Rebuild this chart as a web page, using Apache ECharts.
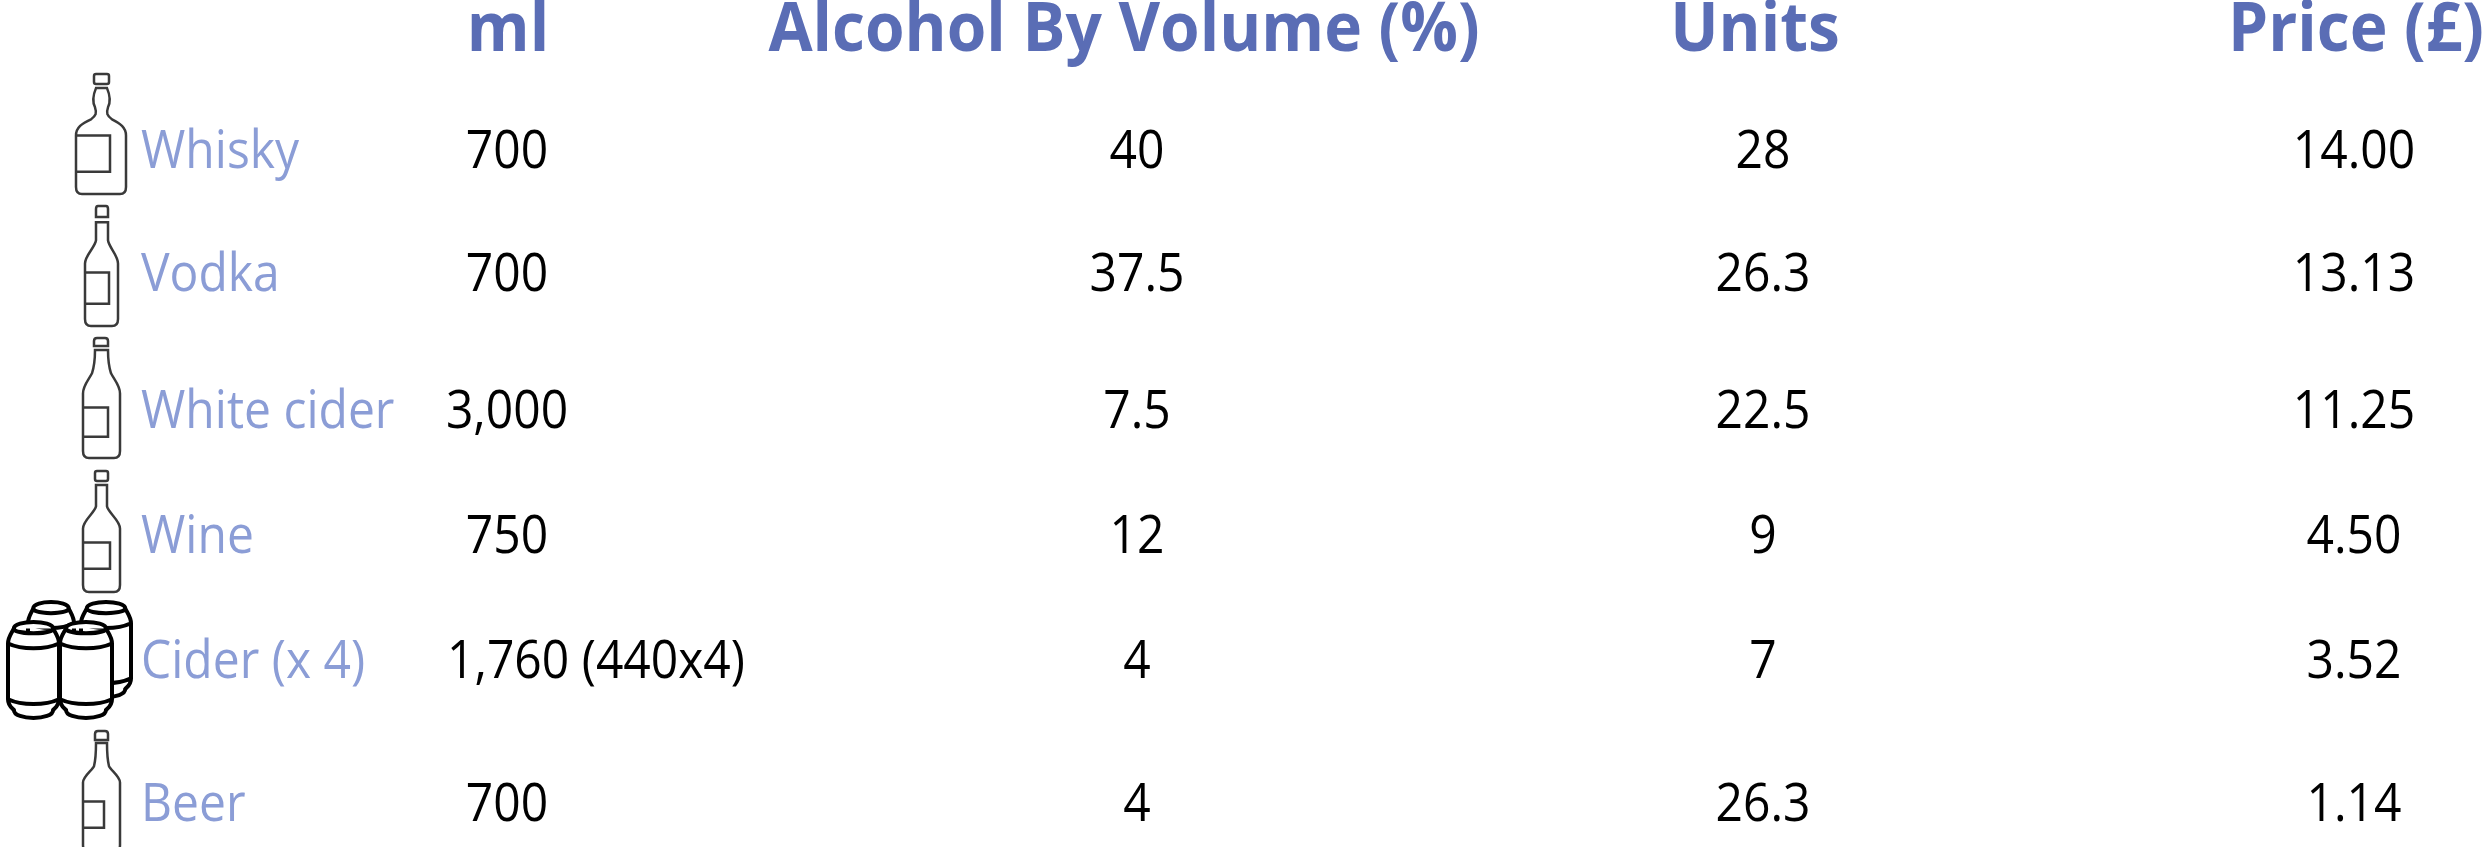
<!DOCTYPE html>
<html>
<head>
<meta charset="utf-8">
<title>Alcohol prices</title>
<script src="https://cdn.jsdelivr.net/npm/echarts@6/dist/echarts.min.js"></script>
<style>
  html, body { margin: 0; padding: 0; background: #fff; }
  #chart { width: 2488px; height: 847px; }
</style>
</head>
<body>
<div id="chart"></div>
<script>
// table data
var headers = ['ml', 'Alcohol By Volume (%)', 'Units', 'Price (£)'];
var drinks = ['Whisky', 'Vodka', 'White cider', 'Wine', 'Cider (x 4)', 'Beer'];
var volume = ['700', '700', '3,000', '750', '1,760 (440x4)', '700'];
var abv = ['40', '37.5', '7.5', '12', '4', '4'];
var units = ['28', '26.3', '22.5', '9', '7', '26.3'];
var price = ['14.00', '13.13', '11.25', '4.50', '3.52', '1.14'];

// layout, in page pixels
var rowY = [153, 276, 413, 538, 663, 806];
var columnX = [507, 1137, 1763, 2354];
var headerX = [508, 1124, 1755, 2356];
var headerY = 32;
var nameX = 141;

var bottle = {
  whisky: 'M20 1H31Q33 1 33 3V9Q33 11 31 11H20Q18 11 18 9V3Q18 1 20 1Z M20 15H31C34 22 35 28 32 34C30 40 31 42 36 46C44 50 50 54 50 62V113Q50 120 44 120H6Q0 120 0 113V62C0 54 6 50 15 46C20 42 21 40 19 34C16 28 17 22 20 15Z M0 62H34V98H0',
  vodka: 'M13 1H21Q23 1 23 4V12H11V4Q11 1 13 1Z M11 17H23V35C24 42 33 50 33 58V113Q33 120 27 120H6Q0 120 0 113V58C0 50 10 42 11 35Z M0 67H24V98H0',
  whitecider: 'M14 1H22Q25 1 25 4V9H11V4Q11 1 14 1Z M12 13H25C25 22 26 30 28 36C31 42 37 48 37 56V113Q37 120 31 120H6Q0 120 0 113V56C0 48 6 42 9 36C11 30 12 22 12 13Z M0 70H25V99H0',
  wine: 'M14 1H23Q25 1 25 3V9Q25 11 23 11H14Q12 11 12 9V3Q12 1 14 1Z M13 15H24V36C25 42 37 50 37 58V114Q37 121 31 121H6Q0 121 0 114V58C0 50 12 42 13 36Z M0 72H27V98H0',
  beer: 'M15 1H22Q25 1 25 4V10H12V4Q12 1 15 1Z M13 13H24C24 24 25 32 26 36C28 40 37 46 37 52V114Q37 121 31 121H6Q0 121 0 114V52C0 46 9 40 11 36C12 32 13 24 13 13Z M0 71H21V97H0',
  can: 'M6 10C6 2 46 2 46 10C46 16 6 16 6 10Z M6 10C4 14 0 18 0 24V76C0 82 4 84 6 86C6 96 46 96 46 86C48 84 52 82 52 76V24C52 18 48 14 46 10 M0 24C14 30 38 30 52 24 M0 76C14 82 38 82 52 76'
};

// icon, x, y, width, height, line width
var icons = [
  ['whisky', 76, 74, 50, 120, 2.5],
  ['vodka', 85, 206, 33, 120, 2.5],
  ['whitecider', 83, 338, 37, 120, 2.5],
  ['wine', 83, 471, 37, 121, 2.5],
  ['can', 28, 602, 46, 95, 4],
  ['can', 81, 602, 50, 95, 4],
  ['can', 8, 622, 51, 96, 4],
  ['can', 60, 622, 52, 96, 4],
  ['beer', 83, 731, 37, 121, 2.5]
];

// every piece of text goes in as one row: x, y, text, kind
var cells = [];
headers.forEach(function (h, i) {
  cells.push([headerX[i], headerY, h, 'header']);
});
drinks.forEach(function (name, i) {
  cells.push([nameX, rowY[i], name, 'name']);
  // the long cider value sits further right than the rest of the column
  cells.push([volume[i].length > 5 ? 596 : columnX[0], rowY[i], volume[i], 'value']);
  cells.push([columnX[1], rowY[i], abv[i], 'value']);
  cells.push([columnX[2], rowY[i], units[i], 'value']);
  cells.push([columnX[3], rowY[i], price[i], 'value']);
});

var textStyles = {
  header: { font: 'bold 64px "Open Sans"', fill: '#5a6db5', align: 'center', stretch: 1.06 },
  name: { font: '48px "Open Sans"', fill: '#8b9dd6', align: 'left', stretch: 1.12 },
  value: { font: '48px "Open Sans"', fill: '#000000', align: 'center', stretch: 1.12 }
};

var myChart = echarts.init(document.getElementById('chart'));

var option = {
  animation: false,
  backgroundColor: '#ffffff',
  grid: { left: 0, right: 0, top: 0, bottom: 0 },
  xAxis: { type: 'value', min: 0, max: 2488, show: false },
  yAxis: { type: 'value', min: 0, max: 847, inverse: true, show: false },
  series: [
    {
      type: 'custom',
      coordinateSystem: 'cartesian2d',
      clip: false,
      silent: true,
      data: icons.map(function (c) { return [c[1], c[2], c[3], c[4], c[5]]; }),
      renderItem: function (params, api) {
        var p = api.coord([api.value(0), api.value(1)]);
        return {
          type: 'path',
          shape: {
            pathData: bottle[icons[params.dataIndex][0]],
            layout: 'cover',
            x: p[0],
            y: p[1],
            width: api.value(2),
            height: api.value(3)
          },
          style: { fill: '#ffffff', stroke: icons[params.dataIndex][0] === 'can' ? '#000000' : '#3a3a3a', lineWidth: api.value(4) }
        };
      }
    },
    {
      type: 'custom',
      coordinateSystem: 'cartesian2d',
      clip: false,
      silent: true,
      encode: { x: 0, y: 1 },
      data: cells,
      renderItem: function (params, api) {
        var row = cells[params.dataIndex];
        var s = textStyles[row[3]];
        var p = api.coord([row[0], row[1]]);
        return {
          type: 'text',
          x: p[0],
          y: p[1],
          scaleY: s.stretch,
          style: {
            text: row[2],
            x: 0,
            y: 0,
            font: s.font,
            fill: s.fill,
            align: s.align,
            verticalAlign: 'middle'
          }
        };
      }
    }
  ]
};

myChart.setOption(option);
</script>
</body>
</html>
